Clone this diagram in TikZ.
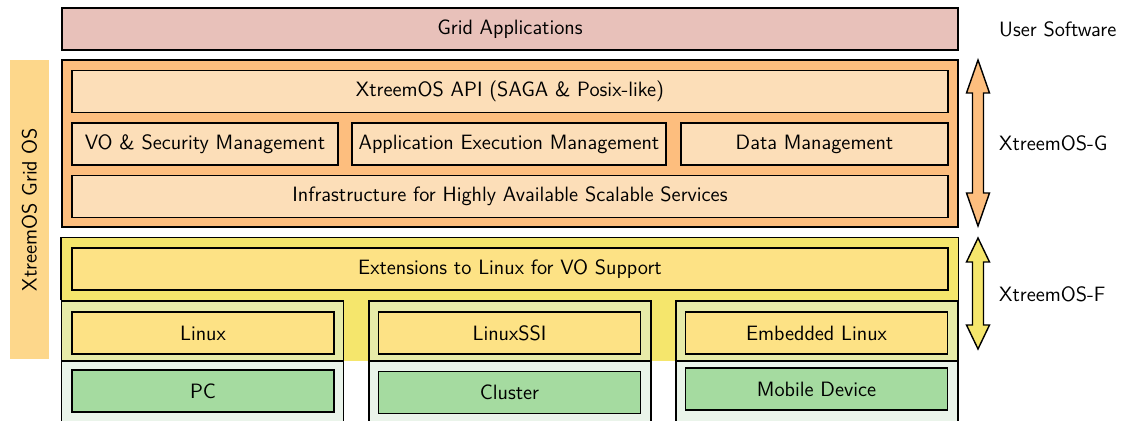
\documentclass[tikz,border=0pt]{standalone}
\usepackage{xcolor}
\usepackage{tikz}
\usetikzlibrary{positioning}

\definecolor{appcol}{HTML}{E8C1BA}
\definecolor{gcol}{HTML}{FDBE7E}
\definecolor{gin}{HTML}{FCDEB8}
\definecolor{sidecol}{HTML}{FDD78B}
\definecolor{fcol}{HTML}{F5E66C}
\definecolor{fin}{HTML}{FDE285}
\definecolor{colup}{HTML}{E7EBA8}
\definecolor{collow}{HTML}{EAF4EA}
\definecolor{hwcol}{HTML}{A5DBA0}

\newcommand{\layerarrow}[5]{%
  \draw[fill=#1, line width=0.8pt] (#2,#3) -- ({#2+11.5},{#3+#5}) -- ({#2+5.5},{#3+#5})
    -- ({#2+5.5},{#4-#5}) -- ({#2+11.5},{#4-#5}) -- (#2,#4) -- ({#2-11.5},{#4-#5})
    -- ({#2-5.5},{#4-#5}) -- ({#2-5.5},{#3+#5}) -- ({#2-11.5},{#3+#5}) -- cycle;}

\begin{document}
\begin{tikzpicture}[
  x=0.02cm, y=-0.02cm,
  every node/.style={font=\sffamily\fontsize{11.8}{14}\selectfont},
  box/.style={draw, line width=0.8pt, inner sep=0pt, minimum height=0.84cm},
  ginner/.style={box, fill=gin},
  finner/.style={box, fill=fin, minimum width=5.24cm},
  hw/.style={box, fill=hwcol, minimum width=5.24cm},
  colupper/.style={box, fill=colup, minimum width=5.64cm, minimum height=1.2cm},
  collower/.style={box, fill=collow, minimum width=5.64cm, minimum height=1.38cm},
  side/.style={anchor=west}
]
\useasboundingbox (0,0) rectangle (1122,421);

\node[box, fill=appcol, minimum width=17.92cm] (apps) at (510,29) {Grid Applications};
\node[side] (usw) at (993,29) {User Software};

\node[fill=sidecol, minimum width=0.78cm, minimum height=5.98cm, inner sep=0pt] (side) at (29.5,209.5) {};
\node[rotate=90] (sidetxt) at (side.center) {XtreemOS Grid OS};

\node[box, fill=gcol, minimum width=17.92cm, minimum height=3.34cm] (gbox) at (510,143.5) {};
\node[ginner, minimum width=17.52cm] (api) at (510,91.5) {XtreemOS API (SAGA \& Posix-like)};
\node[ginner, minimum width=5.32cm] (vo) at (205,144) {VO \& Security Management};
\node[ginner, minimum width=6.28cm] (aem) at (509,144) {Application Execution Management};
\node[ginner, minimum width=5.34cm] (dm) at (814.5,144) {Data Management};
\node[ginner, minimum width=17.52cm] (infra) at (510,196.5) {Infrastructure for Highly Available Scalable Services};

\node[fill=fcol, minimum width=17.92cm, minimum height=2.46cm, inner sep=0pt] (fbox) at (510,299.5) {};
\node[collower] (low1) at (202.5,395.5) {};
\node[collower] (low2) at (510,395.5) {};
\node[collower] (low3) at (817,395.5) {};
\node[colupper] (up1) at (202.5,331) {};
\node[colupper] (up2) at (510,331) {};
\node[colupper] (up3) at (817,331) {};
\draw[line width=0.8pt] (up1.north west) |- (fbox.north) -| (up3.north east);
\node[box, fill=fin, minimum width=17.52cm] (ext) at (510,269) {Extensions to Linux for VO Support};

\node[finner] (linux) at (203,333) {Linux};
\node[finner] (ssi) at (509.5,333) {LinuxSSI};
\node[finner] (emb) at (816.5,333) {Embedded Linux};
\node[hw] (pc) at (203,391) {PC};
\node[hw] (cluster) at (509.5,392.5) {Cluster};
\node[hw] (mobile) at (816.5,389) {Mobile Device};

\layerarrow{gcol}{978}{60}{226}{33}
\layerarrow{fcol}{978}{238}{349}{24}
\node[side] (xg) at (993,143) {XtreemOS-G};
\node[side] (xf) at (993,294) {XtreemOS-F};
\end{tikzpicture}
\end{document}
